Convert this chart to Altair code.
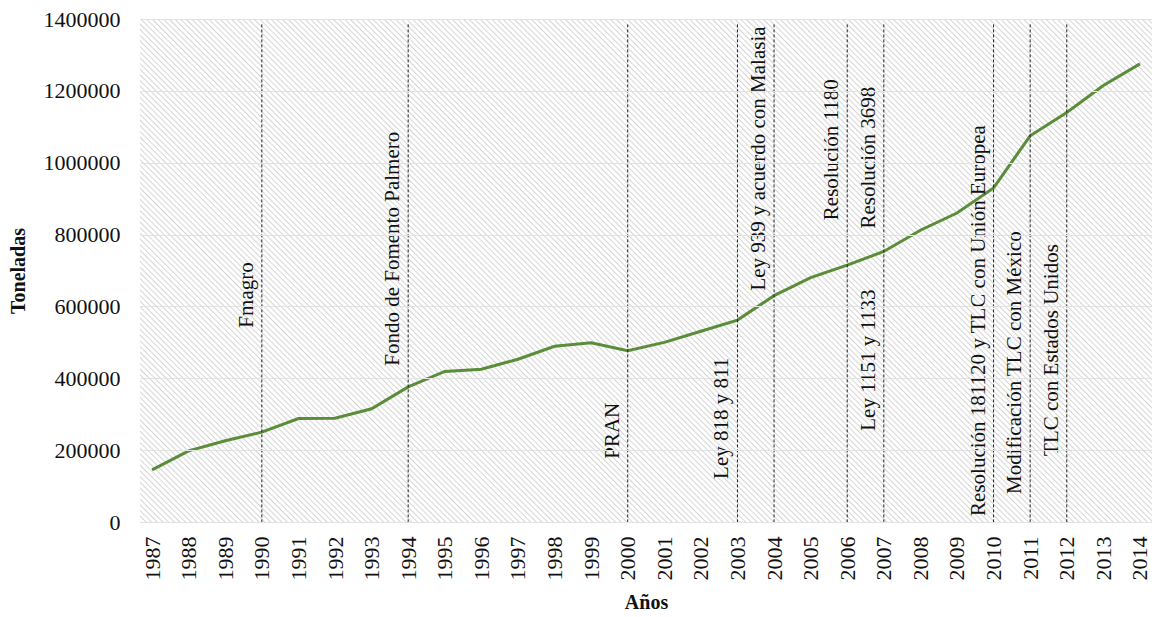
import urllib.parse
import altair as alt
import pandas as pd

# ---- data ----
years = [1987, 1988, 1989, 1990, 1991, 1992, 1993, 1994, 1995, 1996, 1997, 1998, 1999, 2000,
         2001, 2002, 2003, 2004, 2005, 2006, 2007, 2008, 2009, 2010, 2011, 2012, 2013, 2014]
toneladas = [145000, 198000, 226000, 250000, 288000, 289000, 315000, 376000, 419000, 425000,
             453000, 489000, 499000, 477000, 500000, 531000, 562000, 630000, 680000, 715000,
             753000, 812000, 860000, 930000, 1075000, 1140000, 1215000, 1275000]

event_years = [1990, 1994, 2000, 2003, 2004, 2006, 2007, 2010, 2011, 2012]

ann_years = [1990, 1994, 2000, 2003, 2004, 2006, 2007, 2007, 2010, 2011, 2012]
ann_labels = ["Fmagro", "Fondo de Fomento Palmero", "PRAN", "Ley 818 y 811",
              "Ley 939 y acuerdo con Malasia", "Resolución 1180", "Ley 1151 y 1133",
              "Resolución 3698", "Resolución 181120 y TLC con Unión Europea",
              "Modificación TLC con México", "TLC con Estados Unidos"]
ann_start = [541000, 435000, 176000, 120000, 644000, 840000, 254000, 817000, 17000, 78000, 184000]

y_ticks = [0, 200000, 400000, 600000, 800000, 1000000, 1200000, 1400000]

# ---- frames ----
df = pd.DataFrame({"year": years, "value": toneladas})
ev = pd.DataFrame({"year": event_years})
ann = pd.DataFrame({"year": ann_years, "label": ann_labels, "value": ann_start})

W, H = 1012, 503
FONT = "Liberation Serif"

svg = (
    f"<svg xmlns='http://www.w3.org/2000/svg' width='{W}' height='{H}'>"
    "<defs><pattern id='h' width='4' height='4' patternUnits='userSpaceOnUse' "
    "patternTransform='rotate(-45)'><rect width='4' height='4' fill='white'/>"
    "<line x1='0' y1='0' x2='0' y2='4' stroke='#cbcbcb' stroke-width='1.6'/></pattern></defs>"
    f"<rect width='{W}' height='{H}' fill='url(#h)'/></svg>"
)
hatch_url = "data:image/svg+xml;charset=utf-8," + urllib.parse.quote(svg)

xscale = alt.Scale(type="point", padding=0.33)
yscale = alt.Scale(domain=[0, 1400000])

x_enc = alt.X("year:O", scale=xscale, title="Años",
              axis=alt.Axis(labelAngle=270, labelFont=FONT, labelFontSize=22,
                            labelColor="#111", labelPadding=14, ticks=False,
                            domainColor="#bdbdbd", domainWidth=1,
                            titleFont=FONT, titleFontSize=20, titleFontWeight="bold",
                            titleColor="#111", titlePadding=12, grid=False))
y_enc = alt.Y("value:Q", scale=yscale, title="Toneladas",
              axis=alt.Axis(values=y_ticks, format="d", labelFont=FONT, labelFontSize=22,
                            labelColor="#111", labelPadding=20, ticks=False, domain=False,
                            grid=True, gridColor="#e2e2e2", gridWidth=1,
                            titleFont=FONT, titleFontSize=20, titleFontWeight="bold",
                            titleColor="#111", titlePadding=15, zindex=1))

hatch = alt.Chart(alt.Data(values=[{"a": 1}])).mark_image(
    width=W, height=H, align="left", baseline="top", aspect=False
).encode(x=alt.value(0), y=alt.value(0), url=alt.value(hatch_url))

line = alt.Chart(df).mark_line(color="#5b8c3a", strokeWidth=3).encode(x=x_enc, y=y_enc)

rules = alt.Chart(ev).mark_rule(color="#222", strokeWidth=1, strokeDash=[3, 2]).encode(
    x=alt.X("year:O", scale=xscale),
    y=alt.datum(1385000),
    y2=alt.datum(0),
)

texts = alt.Chart(ann).mark_text(
    angle=270, align="left", baseline="bottom", dy=-5,
    font=FONT, fontSize=21, color="#111"
).encode(
    x=alt.X("year:O", scale=xscale),
    y=alt.Y("value:Q", scale=yscale),
    text="label:N",
)

chart = alt.layer(hatch, line, rules, texts).properties(
    width=W, height=H,
    padding={"left": 0, "top": 0, "right": 0, "bottom": 0},
).configure_view(stroke=None)

chart.save("out.html", embed_options={"renderer": "svg", "actions": False})
